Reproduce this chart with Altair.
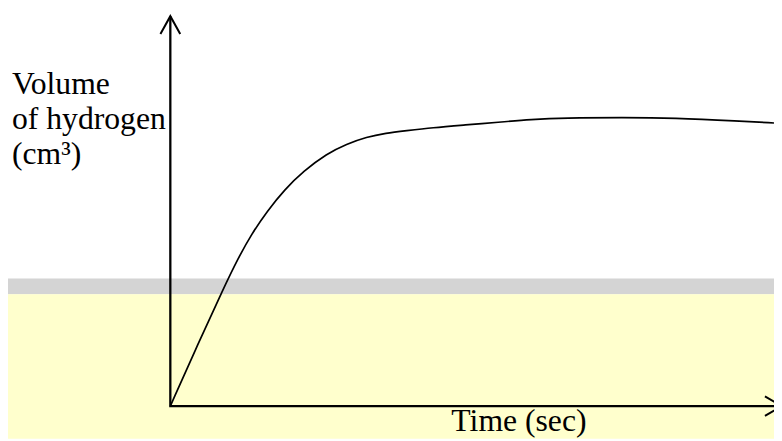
import altair as alt
import pandas as pd

# Curve readings (time in % of x-axis length, volume in % of y-axis length)
time_s = [0, 4.6, 8.9, 11.2, 13.4, 16.1, 18.9, 22.1, 25.9, 29.2, 32.5, 35.7,
          39.0, 43.4, 48.9, 54.3, 59.8, 65.2, 75.1, 83.3, 94.3, 100.0]
volume = [0, 16.0, 30.5, 37.8, 44.0, 50.1, 55.5, 60.3, 64.7, 67.2, 69.0, 70.0,
          70.6, 71.4, 72.1, 72.8, 73.5, 73.9, 74.0, 73.9, 73.1, 72.6]

# Axis lines (L shape) and arrow heads
axis_t = [0, 0, 101.3]
axis_v = [100, 0, 0]
arrow_id = ["up", "up", "up", "right", "right", "right"]
arrow_t = [-1.64, 0, 1.64, 98.5, 101.3, 98.5]
arrow_v = [95.4, 100, 95.4, 2.5, 0, -2.5]

y_label = ["Volume", "of hydrogen", "(cm\u00b3)"]
x_label = "Time (sec)"

W, H = 774, 433
xs = alt.Scale(domain=[-26.89, 100], nice=False, zero=False)
ys = alt.Scale(domain=[-8.38, 101.52], nice=False, zero=False)

curve_df = pd.DataFrame({"t": time_s, "v": volume, "o": range(len(time_s))})
axis_df = pd.DataFrame({"t": axis_t, "v": axis_v, "o": range(len(axis_t))})
arrow_df = pd.DataFrame({"id": arrow_id, "t": arrow_t, "v": arrow_v,
                         "o": range(len(arrow_t))})
one = pd.DataFrame({"a": [0]})

stripe = alt.Chart(one).mark_rect(color="#d4d4d4").encode(
    x=alt.value(0), x2=alt.value(W), y=alt.value(271), y2=alt.value(287))
band = alt.Chart(one).mark_rect(color="#ffffcd").encode(
    x=alt.value(0), x2=alt.value(W), y=alt.value(287), y2=alt.value(H))

curve = alt.Chart(curve_df).mark_line(
    color="black", strokeWidth=1.7, interpolate="basis").encode(
    x=alt.X("t:Q", scale=xs, axis=None),
    y=alt.Y("v:Q", scale=ys, axis=None),
    order="o:Q")

axes = alt.Chart(axis_df).mark_line(color="black", strokeWidth=2.3).encode(
    x=alt.X("t:Q", scale=xs, axis=None),
    y=alt.Y("v:Q", scale=ys, axis=None),
    order="o:Q")

arrows = alt.Chart(arrow_df).mark_line(color="black", strokeWidth=2).encode(
    x=alt.X("t:Q", scale=xs, axis=None),
    y=alt.Y("v:Q", scale=ys, axis=None),
    detail="id:N",
    order="o:Q")

ytext = alt.Chart(one).mark_text(
    text=y_label, font="Liberation Serif", fontSize=32, lineHeight=35,
    align="left", baseline="alphabetic", color="black").encode(
    x=alt.value(4), y=alt.value(85))

xtext = alt.Chart(one).mark_text(
    text=x_label, font="Liberation Serif", fontSize=32,
    align="left", baseline="alphabetic", color="black").encode(
    x=alt.value(448), y=alt.value(425))

chart = alt.layer(stripe, band, curve, axes, arrows, ytext, xtext).properties(
    width=W, height=H, padding=0, autosize=alt.AutoSizeParams(type="none"),
    background="white"
).configure_view(stroke=None)

chart.save("out.html", embed_options={"renderer": "svg", "actions": False})
